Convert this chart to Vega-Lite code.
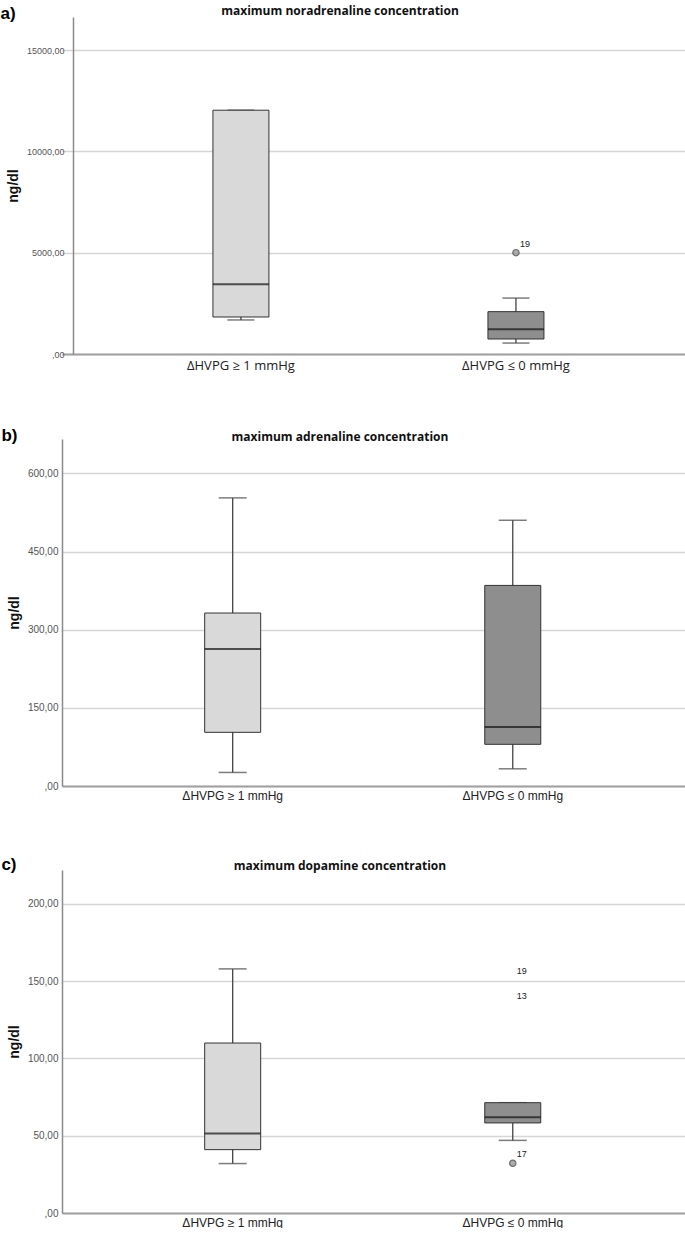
{
  "$schema": "https://vega.github.io/schema/vega-lite/v6.json",
  "background": "white",
  "padding": {"left": 0, "top": 5, "right": 0, "bottom": 0},
  "config": {"view": {"stroke": null}, "axis": {"tickSize": 0}},
  "spacing": 55,
  "resolve": {"scale": {"x": "independent", "y": "independent", "fill": "independent"}},
  "vconcat": [
    {
      "title": {"text": "a)", "anchor": "start", "frame": "bounds", "font": "Liberation Sans", "fontSize": 17, "fontWeight": "bold", "color": "#000", "baseline": "alphabetic", "offset": -31, "dx": -6},
      "vconcat": [
        {
          "width": 624,
          "height": 337,
          "title": {"text": "maximum noradrenaline concentration", "anchor": "middle", "frame": "group", "dx": -34, "offset": -10, "baseline": "alphabetic", "font": "Open Sans", "fontSize": 12, "fontWeight": "bold", "color": "#111"},
          "data": {"values": [
            {"group": "ΔHVPG ≥ 1 mmHg", "low": 1680, "q1": 1826, "median": 3440, "q3": 12030, "high": 12030},
            {"group": "ΔHVPG ≤ 0 mmHg", "low": 540, "q1": 740, "median": 1220, "q3": 2090, "high": 2760}
          ]},
          "encoding": {
            "x": {"field": "group", "type": "nominal", "sort": ["ΔHVPG ≥ 1 mmHg", "ΔHVPG ≤ 0 mmHg"],
              "scale": {"paddingInner": 0, "paddingOuter": 0.1345, "align": 0.56},
              "axis": {"title": null, "labelAngle": 0, "ticks": false, "domainColor": "#a0a0a0", "domainWidth": 2, "labelPadding": 5, "labelFont": "Open Sans", "labelFontSize": 13, "labelColor": "#222"}}
          },
          "layer": [
            {"mark": {"type": "rule", "color": "#444", "strokeWidth": 1.3},
             "encoding": {
               "y": {"field": "low", "type": "quantitative", "scale": {"domain": [0, 16630], "nice": false, "zero": true},
                 "axis": {"offset": -11, "values": [0, 5000, 10000, 15000], "labelExpr": "datum.value == 0 ? ',00' : replace(format(datum.value, '.2f'), '.', ',')", "title": "ng/dl", "titleFont": "Liberation Sans", "titleFontSize": 14, "titleFontWeight": "bold", "titleColor": "#111", "titlePadding": 6, "labelFont": "Liberation Sans", "labelFontSize": 9, "labelColor": "#555", "labelPadding": 9, "ticks": false, "domainColor": "#8a8a8a", "domainWidth": 1.5, "gridColor": "#d6d6d6", "gridWidth": 1.5}},
               "y2": {"field": "high"}}},
            {"mark": {"type": "tick", "size": 27, "thickness": 1.5, "color": "#444"}, "encoding": {"y": {"field": "low", "type": "quantitative"}}},
            {"mark": {"type": "tick", "size": 27, "thickness": 1.5, "color": "#444"}, "encoding": {"y": {"field": "high", "type": "quantitative"}}},
            {"mark": {"type": "bar", "size": 56, "stroke": "#333", "strokeWidth": 1},
             "encoding": {"y": {"field": "q1", "type": "quantitative"}, "y2": {"field": "q3"},
               "fill": {"field": "group", "type": "nominal", "scale": {"domain": ["ΔHVPG ≥ 1 mmHg", "ΔHVPG ≤ 0 mmHg"], "range": ["#d9d9d9", "#8e8e8e"]}, "legend": null}}},
            {"mark": {"type": "tick", "size": 56, "thickness": 2, "color": "#111"}, "encoding": {"y": {"field": "median", "type": "quantitative"}}},
            {"data": {"values": [{"group": "ΔHVPG ≤ 0 mmHg", "value": 5000, "label": "19", "marker": true}]},
             "layer": [
               {"transform": [{"filter": "datum.marker"}], "mark": {"type": "point", "shape": "circle", "size": 40, "filled": true, "fill": "#8a8a8a", "stroke": "#333", "strokeWidth": 1.2}, "encoding": {"y": {"field": "value", "type": "quantitative"}}},
               {"mark": {"type": "text", "dx": 9, "dy": -9, "font": "Liberation Sans", "fontSize": 9, "color": "#222"}, "encoding": {"y": {"field": "value", "type": "quantitative"}, "text": {"field": "label"}}}
             ]}
          ]
        }
      ]
    },
    {
      "title": {"text": "b)", "anchor": "start", "frame": "bounds", "font": "Liberation Sans", "fontSize": 17, "fontWeight": "bold", "color": "#000", "baseline": "alphabetic", "offset": -27, "dx": -6},
      "vconcat": [
        {
          "width": 624,
          "height": 347,
          "title": {"text": "maximum adrenaline concentration", "anchor": "middle", "frame": "group", "dx": -34, "offset": -14, "baseline": "alphabetic", "font": "Open Sans", "fontSize": 12, "fontWeight": "bold", "color": "#111"},
          "data": {"values": [
            {"group": "ΔHVPG ≥ 1 mmHg", "low": 26, "q1": 103, "median": 263, "q3": 332, "high": 553},
            {"group": "ΔHVPG ≤ 0 mmHg", "low": 33, "q1": 80, "median": 113, "q3": 385, "high": 510}
          ]},
          "encoding": {
            "x": {"field": "group", "type": "nominal", "sort": ["ΔHVPG ≥ 1 mmHg", "ΔHVPG ≤ 0 mmHg"],
              "scale": {"paddingInner": 0, "paddingOuter": 0.114, "align": 0.48},
              "axis": {"title": null, "labelAngle": 0, "ticks": false, "domainColor": "#a0a0a0", "domainWidth": 2, "labelPadding": 4, "labelFont": "Liberation Sans", "labelFontSize": 12, "labelColor": "#222"}}
          },
          "layer": [
            {"mark": {"type": "rule", "color": "#444", "strokeWidth": 1.3},
             "encoding": {
               "y": {"field": "low", "type": "quantitative", "scale": {"domain": [0, 666], "nice": false, "zero": true},
                 "axis": {"values": [0, 150, 300, 450, 600], "labelExpr": "datum.value == 0 ? ',00' : replace(format(datum.value, '.2f'), '.', ',')", "title": "ng/dl", "titleFont": "Liberation Sans", "titleFontSize": 14, "titleFontWeight": "bold", "titleColor": "#111", "titlePadding": 6, "labelFont": "Liberation Sans", "labelFontSize": 10, "labelColor": "#555", "labelPadding": 4, "ticks": false, "domainColor": "#8a8a8a", "domainWidth": 1.5, "gridColor": "#d6d6d6", "gridWidth": 1.5}},
               "y2": {"field": "high"}}},
            {"mark": {"type": "tick", "size": 28, "thickness": 1.5, "color": "#444"}, "encoding": {"y": {"field": "low", "type": "quantitative"}}},
            {"mark": {"type": "tick", "size": 28, "thickness": 1.5, "color": "#444"}, "encoding": {"y": {"field": "high", "type": "quantitative"}}},
            {"mark": {"type": "bar", "size": 56, "stroke": "#333", "strokeWidth": 1},
             "encoding": {"y": {"field": "q1", "type": "quantitative"}, "y2": {"field": "q3"},
               "fill": {"field": "group", "type": "nominal", "scale": {"domain": ["ΔHVPG ≥ 1 mmHg", "ΔHVPG ≤ 0 mmHg"], "range": ["#d9d9d9", "#8e8e8e"]}, "legend": null}}},
            {"mark": {"type": "tick", "size": 56, "thickness": 2, "color": "#111"}, "encoding": {"y": {"field": "median", "type": "quantitative"}}}
          ]
        }
      ]
    },
    {
      "title": {"text": "c)", "anchor": "start", "frame": "bounds", "font": "Liberation Sans", "fontSize": 17, "fontWeight": "bold", "color": "#000", "baseline": "alphabetic", "offset": -27, "dx": -6},
      "vconcat": [
        {
          "width": 624,
          "height": 343,
          "title": {"text": "maximum dopamine concentration", "anchor": "middle", "frame": "group", "dx": -34, "offset": -12, "baseline": "alphabetic", "font": "Open Sans", "fontSize": 12, "fontWeight": "bold", "color": "#111"},
          "data": {"values": [
            {"group": "ΔHVPG ≥ 1 mmHg", "low": 32, "q1": 41, "median": 51.5, "q3": 110, "high": 158},
            {"group": "ΔHVPG ≤ 0 mmHg", "low": 47, "q1": 58.3, "median": 62, "q3": 71.4, "high": 71.4}
          ]},
          "encoding": {
            "x": {"field": "group", "type": "nominal", "sort": ["ΔHVPG ≥ 1 mmHg", "ΔHVPG ≤ 0 mmHg"],
              "scale": {"paddingInner": 0, "paddingOuter": 0.114, "align": 0.48},
              "axis": {"title": null, "labelAngle": 0, "ticks": false, "domainColor": "#a0a0a0", "domainWidth": 2, "labelPadding": 4, "labelFont": "Liberation Sans", "labelFontSize": 12, "labelColor": "#222"}}
          },
          "layer": [
            {"mark": {"type": "rule", "color": "#444", "strokeWidth": 1.3},
             "encoding": {
               "y": {"field": "low", "type": "quantitative", "scale": {"domain": [0, 222], "nice": false, "zero": true},
                 "axis": {"values": [0, 50, 100, 150, 200], "labelExpr": "datum.value == 0 ? ',00' : replace(format(datum.value, '.2f'), '.', ',')", "title": "ng/dl", "titleFont": "Liberation Sans", "titleFontSize": 14, "titleFontWeight": "bold", "titleColor": "#111", "titlePadding": 6, "labelFont": "Liberation Sans", "labelFontSize": 10, "labelColor": "#555", "labelPadding": 4, "ticks": false, "domainColor": "#8a8a8a", "domainWidth": 1.5, "gridColor": "#d6d6d6", "gridWidth": 1.5}},
               "y2": {"field": "high"}}},
            {"mark": {"type": "tick", "size": 28, "thickness": 1.5, "color": "#444"}, "encoding": {"y": {"field": "low", "type": "quantitative"}}},
            {"mark": {"type": "tick", "size": 28, "thickness": 1.5, "color": "#444"}, "encoding": {"y": {"field": "high", "type": "quantitative"}}},
            {"mark": {"type": "bar", "size": 56, "stroke": "#333", "strokeWidth": 1},
             "encoding": {"y": {"field": "q1", "type": "quantitative"}, "y2": {"field": "q3"},
               "fill": {"field": "group", "type": "nominal", "scale": {"domain": ["ΔHVPG ≥ 1 mmHg", "ΔHVPG ≤ 0 mmHg"], "range": ["#d9d9d9", "#8e8e8e"]}, "legend": null}}},
            {"mark": {"type": "tick", "size": 56, "thickness": 2, "color": "#111"}, "encoding": {"y": {"field": "median", "type": "quantitative"}}},
            {"data": {"values": [
               {"group": "ΔHVPG ≤ 0 mmHg", "value": 32.2, "label": "17", "marker": true},
               {"group": "ΔHVPG ≤ 0 mmHg", "value": 151, "label": "19", "marker": false},
               {"group": "ΔHVPG ≤ 0 mmHg", "value": 134.5, "label": "13", "marker": false}
             ]},
             "layer": [
               {"transform": [{"filter": "datum.marker"}], "mark": {"type": "point", "shape": "circle", "size": 40, "filled": true, "fill": "#8a8a8a", "stroke": "#333", "strokeWidth": 1.2}, "encoding": {"y": {"field": "value", "type": "quantitative"}}},
               {"mark": {"type": "text", "dx": 9, "dy": -9, "font": "Liberation Sans", "fontSize": 9, "color": "#222"}, "encoding": {"y": {"field": "value", "type": "quantitative"}, "text": {"field": "label"}}}
             ]}
          ]
        }
      ]
    }
  ]
}
